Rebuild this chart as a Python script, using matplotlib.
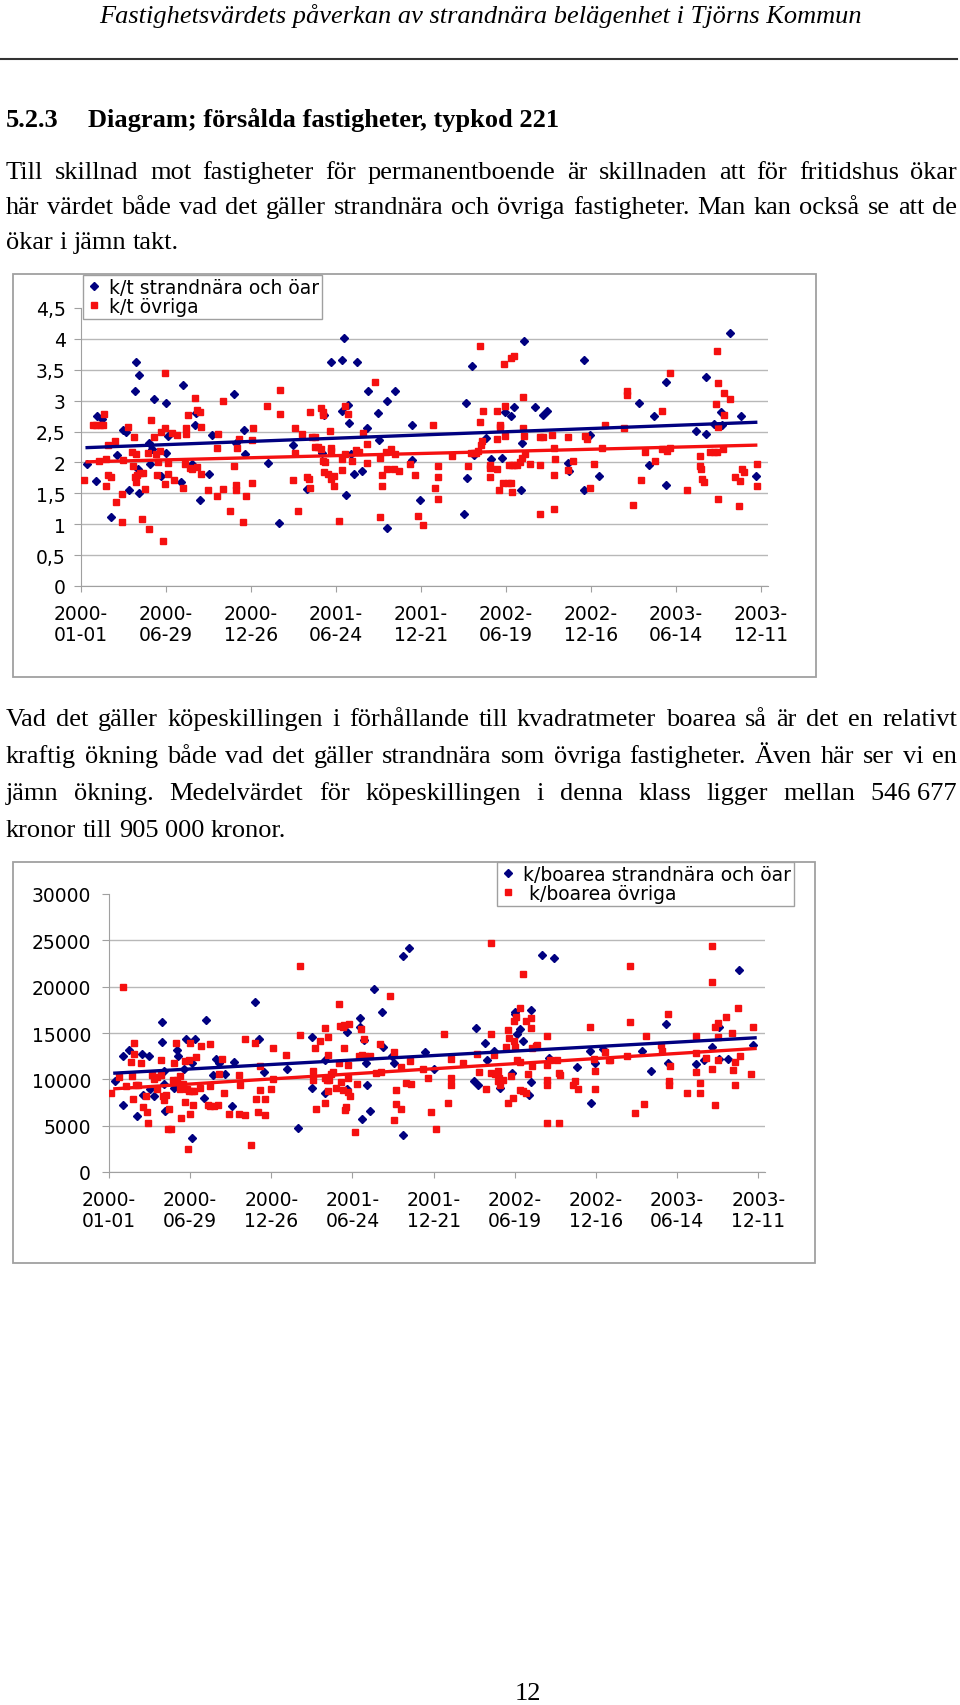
import numpy as np
import matplotlib.pyplot as plt
from matplotlib.patches import Rectangle

W, H = 960, 1706

# ---- chart 1: k/t (days since 2000-01-01) ----
kt_strand_days = [13, 31, 34, 44, 63, 76, 88, 95, 102, 116, 115, 123, 122, 120, 144, 147, 154, 150,
                  169, 179, 179, 185, 215, 212, 236, 242, 244, 253, 272, 277, 323, 329, 345, 347,
                  395, 420, 449, 479, 510, 515, 530, 553, 558, 552, 565, 567, 561, 571, 579, 585,
                  596, 605, 607, 628, 631, 649, 649, 664, 702, 702, 719, 811, 815, 818, 829, 832,
                  858, 868, 892, 899, 911, 918, 933, 939, 931, 961, 978, 988, 1032, 1034, 1066,
                  1066, 1079, 1098, 1182, 1203, 1213, 1239, 1239, 1302, 1323, 1323, 1341, 1356,
                  1358, 1374, 1398, 1429]
kt_strand_vals = [1.97, 1.70, 2.75, 2.71, 1.12, 2.12, 2.52, 2.50, 1.55, 3.63, 3.15, 3.41, 1.50, 1.90,
                  2.31, 1.98, 3.03, 2.21, 1.78, 2.97, 2.16, 2.42, 3.26, 1.69, 1.97, 2.61, 2.80, 1.40,
                  1.81, 2.44, 3.10, 2.32, 2.52, 2.14, 1.99, 1.02, 2.28, 1.57, 2.16, 2.77, 3.63, 3.66,
                  4.02, 2.84, 2.93, 2.64, 1.48, 2.14, 1.81, 3.62, 1.86, 2.55, 3.15, 2.80, 2.36, 3.00,
                  0.94, 3.15, 2.61, 2.04, 1.40, 1.17, 2.97, 1.75, 3.56, 2.12, 2.39, 2.05, 2.08, 2.82,
                  2.75, 2.90, 2.31, 3.97, 1.55, 2.90, 2.77, 2.84, 1.99, 1.86, 3.66, 1.55, 2.45, 1.78,
                  2.96, 1.96, 2.75, 3.30, 1.63, 2.51, 2.46, 3.39, 2.63, 2.81, 2.61, 4.10, 2.75, 1.78]

kt_ovr_days = [7, 25, 32, 40, 47, 49, 39, 53, 53, 58, 57, 64, 71, 75, 86, 86, 88, 100, 107, 110, 113,
               114, 116, 117, 118, 126, 132, 129, 136, 143, 141, 149, 155, 159, 161, 163, 170, 168,
               174, 177, 177, 178, 184, 185, 192, 198, 204, 216, 222, 222, 221, 226, 230, 236, 241,
               245, 245, 251, 255, 255, 270, 287, 288, 291, 300, 301, 316, 323, 329, 329, 331, 335,
               343, 350, 362, 363, 365, 393, 422, 422, 449, 453, 453, 460, 467, 478, 483, 485, 485,
               490, 495, 496, 503, 509, 512, 512, 508, 513, 515, 517, 524, 527, 530, 530, 530, 535,
               535, 546, 552, 552, 560, 560, 566, 573, 582, 589, 598, 605, 605, 623, 633, 633, 637,
               637, 646, 649, 656, 662, 666, 673, 697, 707, 714, 725, 746, 750, 756, 756, 757, 785,
               820, 846, 846, 851, 850, 847, 841, 837, 832, 826, 866, 866, 866, 880, 880, 881, 885,
               888, 888, 896, 898, 898, 894, 905, 911, 911, 916, 907, 913, 913, 918, 924, 930, 933,
               937, 937, 939, 940, 951, 972, 978, 972, 972, 997, 1002, 1004, 1002, 1002, 1032, 1032,
               1043, 1067, 1072, 1079, 1087, 1103, 1110, 1149, 1157, 1157, 1170, 1185, 1195, 1216,
               1230, 1230, 1242, 1248, 1248, 1283, 1312, 1311, 1313, 1316, 1319, 1333, 1340, 1346,
               1360, 1344, 1348, 1350, 1350, 1350, 1361, 1361, 1374, 1386, 1393, 1395, 1400, 1404,
               1431, 1431]
kt_ovr_vals = [1.72, 2.61, 2.61, 2.61, 2.61, 2.78, 2.03, 2.05, 1.62, 2.29, 1.79, 1.77, 2.34, 1.36,
               1.03, 1.49, 2.04, 2.58, 2.17, 1.95, 2.41, 1.76, 1.69, 2.14, 1.80, 1.83, 1.83, 1.09,
               1.57, 0.93, 2.16, 2.69, 2.41, 2.14, 1.80, 2.00, 2.49, 2.19, 0.73, 2.56, 3.44, 1.65,
               1.99, 1.82, 2.47, 1.72, 2.44, 1.59, 2.56, 2.46, 1.97, 2.77, 1.91, 1.90, 3.04, 2.85,
               1.92, 2.81, 2.58, 1.82, 1.55, 1.46, 2.23, 2.46, 1.57, 2.99, 1.21, 1.95, 1.55, 1.64,
               2.23, 2.38, 1.03, 1.46, 1.67, 2.36, 2.56, 2.91, 3.17, 2.78, 1.72, 2.56, 2.15, 1.21,
               2.46, 1.77, 1.74, 2.81, 1.59, 2.41, 2.41, 2.25, 2.25, 2.88, 2.81, 2.76, 2.22, 2.03,
               1.84, 2.00, 1.81, 2.51, 2.19, 2.24, 1.74, 1.78, 1.62, 1.05, 1.87, 2.05, 2.91, 2.14,
               2.79, 2.03, 2.20, 2.17, 2.47, 2.30, 1.99, 3.30, 2.07, 1.11, 1.79, 1.62, 2.17, 1.89,
               2.22, 1.89, 2.14, 1.86, 1.97, 1.79, 1.14, 0.98, 2.61, 1.59, 1.95, 1.77, 1.41, 2.10,
               1.95, 3.88, 2.66, 2.84, 2.34, 2.29, 2.19, 2.16, 2.16, 2.16, 1.96, 1.91, 1.77, 2.84,
               2.38, 1.89, 1.56, 2.61, 2.57, 3.60, 2.91, 2.43, 1.67, 1.67, 1.67, 3.69, 3.72, 1.96,
               1.96, 1.52, 1.96, 1.96, 2.00, 2.08, 3.06, 2.56, 2.43, 2.14, 1.97, 2.41, 2.41, 1.96,
               1.16, 2.45, 2.24, 2.05, 1.80, 1.24, 2.41, 1.87, 2.02, 2.43, 2.38, 1.59, 1.97, 2.23,
               2.61, 2.56, 3.15, 3.09, 1.31, 1.72, 2.17, 2.02, 2.84, 2.22, 2.18, 3.44, 2.24, 1.56,
               2.10, 1.95, 1.89, 1.74, 1.68, 2.17, 2.17, 2.17, 2.22, 2.94, 3.81, 3.29, 1.41, 2.58,
               3.12, 2.76, 3.02, 1.77, 1.29, 1.70, 1.89, 1.85, 1.97, 1.62]

kt_trend_days = [13, 1429]
kt_trend_strand = [2.24, 2.65]
kt_trend_ovr = [2.01, 2.28]

# ---- chart 2: k/boarea ----
kb_strand_days = [13, 31, 32, 44, 62, 74, 76, 88, 91, 100, 118, 118, 121, 125, 123, 144, 150, 154,
                  166, 171, 183, 183, 190, 211, 216, 230, 237, 244, 257, 273, 278, 324, 333, 344,
                  395, 420, 450, 450, 478, 480, 528, 528, 556, 557, 565, 569, 573, 562, 579, 587,
                  606, 608, 627, 632, 651, 665, 651, 700, 720, 814, 810, 819, 834, 838, 855, 868,
                  893, 900, 901, 904, 912, 919, 931, 937, 937, 960, 986, 977, 1037, 1066, 1068,
                  1077, 1095, 1183, 1202, 1236, 1239, 1302, 1319, 1338, 1354, 1353, 1372, 1397, 1429]
kb_strand_vals = [9773, 7258, 12468, 13187, 6072, 12683, 8264, 12468, 8982, 8156, 16240, 14013,
                  10923, 6575, 9521, 9054, 13187, 12504, 11066, 14372, 3701, 11785, 14372, 8012,
                  16384, 10420, 12145, 11785, 10600, 7078, 11821, 18396, 14372, 10779, 11138, 4743,
                  14552, 9054, 12109, 8515, 15091, 8982, 16635, 15701, 14193, 11785, 9414, 5749,
                  6575, 19761, 17246, 13474, 12468, 11785, 23282, 24145, 4024, 12935, 11138, 15522,
                  9845, 9342, 13937, 12091, 13032, 9050, 10679, 17304, 17086, 14842, 15457, 14118,
                  8326, 17521, 9665, 23458, 23096, 12308, 11367, 13104, 7457, 11729, 13322, 13104,
                  10860, 16000, 11765, 11693, 12055, 13466, 15638, 12236, 12236, 21756, 13756]

kb_ovr_days = [4, 22, 30, 38, 49, 50, 56, 53, 55, 59, 65, 70, 75, 83, 85, 86, 96, 100, 106, 106, 115,
               116, 120, 122, 127, 131, 138, 133, 142, 145, 148, 151, 157, 160, 157, 164, 169, 169,
               173, 175, 177, 179, 177, 180, 185, 186, 188, 194, 201, 205, 219, 225, 225, 223, 233,
               242, 245, 250, 256, 267, 288, 288, 290, 301, 301, 316, 323, 327, 330, 334, 335, 345,
               347, 360, 364, 364, 393, 423, 423, 452, 452, 457, 460, 467, 478, 485, 485, 478, 484,
               480, 485, 489, 493, 497, 504, 511, 513, 511, 515, 519, 519, 522, 521, 526, 524, 529,
               530, 532, 531, 534, 545, 551, 554, 559, 561, 565, 568, 579, 593, 600, 604, 624, 633,
               637, 636, 648, 648, 633, 659, 667, 670, 696, 707, 715, 726, 744, 752, 759, 759, 759,
               785, 816, 820, 836, 847, 847, 854, 856, 862, 863, 847, 866, 868, 873, 880, 884, 885,
               887, 891, 895, 898, 899, 900, 903, 906, 911, 911, 912, 919, 918, 924, 926, 930, 935,
               935, 939, 939, 946, 950, 972, 972, 972, 972, 972, 979, 994, 997, 997, 1001, 1030,
               1034, 1041, 1067, 1075, 1078, 1078, 1101, 1108, 1112, 1148, 1156, 1156, 1167, 1187,
               1192, 1225, 1227, 1240, 1241, 1241, 1244, 1281, 1303, 1302, 1303, 1310, 1310, 1325,
               1337, 1337, 1337, 1343, 1343, 1350, 1350, 1350, 1369, 1381, 1384, 1388, 1388, 1396,
               1400, 1428, 1425]
kb_ovr_vals = [8515, 10240, 20013, 9270, 11857, 10348, 13905, 7833, 12755, 9342, 9342, 11785, 7006,
               8192, 6467, 5282, 10420, 10060, 10240, 8982, 12037, 10420, 8192, 7725, 8336, 4599,
               4599, 6827, 9881, 11785, 13905, 9953, 10312, 5821, 8982, 9521, 7545, 12001, 8982,
               2443, 8695, 6288, 12037, 13941, 8731, 7258, 8731, 12396, 9054, 13546, 7186, 9234,
               7114, 13761, 7114, 7186, 10600, 12216, 8515, 6288, 6288, 10420, 9342, 14372, 6180,
               2946, 13905, 7833, 6467, 11426, 8803, 7833, 6108, 8982, 10060, 13402, 12576, 22205,
               14731, 10851, 9881, 13402, 6827, 14085, 15558, 12576, 14552, 10168, 9881, 7473, 8731,
               9953, 10600, 10779, 9054, 18144, 15809, 11713, 9701, 15630, 8803, 13366, 15917, 7006,
               6647, 8623, 11498, 15989, 10132, 8192, 4312, 9485, 12504, 15378, 12576, 14372, 12504,
               12504, 10671, 13761, 10779, 18971, 12935, 8875, 7294, 6827, 11318, 5641, 9593, 11929,
               9485, 11138, 10168, 6467, 4599, 14911, 7473, 12216, 10168, 9342, 11749, 12755, 10779,
               8978, 14842, 10679, 12670, 10570, 9846, 10860, 24725, 10136, 9412, 9955, 13466, 15276,
               7421, 14480, 10317, 8036, 16290, 14190, 13466, 16724, 12127, 17738, 11874, 8797,
               21358, 8688, 16290, 8579, 10570, 16579, 15566, 13394, 11475, 13575, 13756, 14661,
               11584, 9955, 9412, 5321, 12055, 12127, 5321, 10679, 10498, 9412, 9774, 8978, 15675,
               12200, 10860, 8941, 12923, 12091, 12127, 12489, 22191, 16218, 6335, 7349, 14661,
               13756, 13104, 17086, 9846, 9412, 11475, 8507, 14661, 12851, 10751, 8579, 9593, 12308,
               24435, 20489, 11149, 7240, 15675, 16037, 14552, 12127, 16760, 15023, 10968, 11837,
               9412, 17738, 12489, 15675, 10606]

kb_trend_days = [13, 1433]
kb_trend_strand = [10670, 14480]
kb_trend_ovr = [8982, 13322]

tick_days = [0, 180, 360, 540, 720, 900, 1080, 1260, 1440]
tick_labels = ["2000-\n01-01", "2000-\n06-29", "2000-\n12-26", "2001-\n06-24", "2001-\n12-21",
               "2002-\n06-19", "2002-\n12-16", "2003-\n06-14", "2003-\n12-11"]
kt_yticks = [0, 0.5, 1, 1.5, 2, 2.5, 3, 3.5, 4, 4.5]
kt_ylabels = ["0", "0,5", "1", "1,5", "2", "2,5", "3", "3,5", "4", "4,5"]
kb_yticks = [0, 5000, 10000, 15000, 20000, 25000, 30000]
kb_ylabels = ["0", "5000", "10000", "15000", "20000", "25000", "30000"]

BLUE = "#000080"
RED = "#f51010"
GRAY = "#a0a0a0"
GRID = "#b8b8b8"
SERIF = "Liberation Serif"

fig = plt.figure(figsize=(W / 100, H / 100), dpi=100)


def fy(py):
    return 1 - py / H


def make_chart(box, rect, xs1, ys1, xs2, ys2, tdays, t1, t2, ymax, yticks, ylabels,
               leg_xy, labels, ypad):
    # outer chart frame
    x0, y0, x1, y1 = box
    fig.add_artist(Rectangle((x0 / W, fy(y1)), (x1 - x0) / W, (y1 - y0) / H,
                             transform=fig.transFigure, fill=False, ec=GRAY, lw=1.3))
    l, t, r, b = rect
    ax = fig.add_axes([l / W, fy(b), (r - l) / W, (b - t) / H])
    h1, = ax.plot(xs1, ys1, ls="none", marker="D", ms=4.0, color=BLUE, zorder=3)
    h2, = ax.plot(xs2, ys2, ls="none", marker="s", ms=4.6, color=RED, zorder=4)
    ax.plot(tdays, t1, color=BLUE, lw=2.4, zorder=5)
    ax.plot(tdays, t2, color=RED, lw=2.4, zorder=5)
    ax.set_xlim(0, 1455)
    ax.set_ylim(0, ymax)
    ax.set_yticks(yticks)
    ax.set_yticklabels(ylabels)
    ax.set_xticks(tick_days)
    ax.set_xticklabels(tick_labels, linespacing=1.15)
    ax.yaxis.grid(True, color=GRID, lw=1)
    ax.get_ygridlines()[-1].set_visible(False)
    ax.set_axisbelow(True)
    for s in ["top", "right"]:
        ax.spines[s].set_visible(False)
    for s in ["left", "bottom"]:
        ax.spines[s].set_color(GRAY)
    ax.tick_params(axis="y", length=5, color=GRAY, pad=ypad, labelsize=13.5)
    ax.tick_params(axis="x", length=4, color=GRAY, pad=9, labelsize=13.5)
    ax.set_facecolor("none")
    leg = ax.legend([h1, h2], labels, loc="upper left", bbox_to_anchor=(leg_xy[0] / W, fy(leg_xy[1])),
                    bbox_transform=fig.transFigure, frameon=True, fancybox=False, framealpha=1,
                    edgecolor=GRAY, borderpad=0.15, labelspacing=0.0, handlelength=0.9,
                    handletextpad=0.35, borderaxespad=0, fontsize=13.5)
    leg.get_frame().set_linewidth(1)
    return ax


make_chart((13, 275, 816, 678), (81, 309, 768, 587),
           kt_strand_days, kt_strand_vals, kt_ovr_days, kt_ovr_vals,
           kt_trend_days, kt_trend_strand, kt_trend_ovr, 4.5, kt_yticks, kt_ylabels,
           (83, 276), ["k/t strandnära och öar", "k/t övriga"], 6)

make_chart((13, 863, 815, 1264), (109, 895, 765, 1173),
           kb_strand_days, kb_strand_vals, kb_ovr_days, kb_ovr_vals,
           kb_trend_days, kb_trend_strand, kb_trend_ovr, 30000, kb_yticks, kb_ylabels,
           (497, 863), ["k/boarea strandnära och öar", " k/boarea övriga"], 8)

# ---- page text ----
BODY = 19
LEFT, RIGHT = 6, 957
renderer = fig.canvas.get_renderer()


def put_line(text, ybase, justify):
    # place words one by one so justified lines reach the right margin
    words = [w.replace("~", " ") for w in text.split(" ")]
    items = [fig.text(0, fy(ybase), w, fontsize=BODY, family=SERIF, va="baseline") for w in words]
    widths = [it.get_window_extent(renderer).width for it in items]
    if justify and len(words) > 1:
        gap = (RIGHT - LEFT - sum(widths)) / (len(words) - 1)
    else:
        gap = 0.25 * BODY * 100 / 72
    x = LEFT
    for it, w in zip(items, widths):
        it.set_x(x / W)
        x += w + gap


fig.text(480 / W, fy(23), "Fastighetsvärdets påverkan av strandnära belägenhet i Tjörns Kommun",
         fontsize=BODY, family=SERIF, style="italic", ha="center", va="baseline")
fig.add_artist(plt.Line2D([0, 957 / W], [fy(60), fy(60)], transform=fig.transFigure,
                          color="#333333", lw=1.5))
fig.text(LEFT / W, fy(127), "5.2.3", fontsize=BODY, family=SERIF, weight="bold", va="baseline")
fig.text(88 / W, fy(127), "Diagram; försålda fastigheter, typkod 221", fontsize=BODY,
         family=SERIF, weight="bold", va="baseline")

put_line("Till skillnad mot fastigheter för permanentboende är skillnaden att för fritidshus ökar", 179, True)
put_line("här värdet både vad det gäller strandnära och övriga fastigheter. Man kan också se att de", 214, True)
put_line("ökar i jämn takt.", 249, False)

put_line("Vad det gäller köpeskillingen i förhållande till kvadratmeter boarea så är det en relativt", 726, True)
put_line("kraftig ökning både vad det gäller strandnära som övriga fastigheter. Även här ser vi en", 763, True)
put_line("jämn ökning. Medelvärdet för köpeskillingen i denna klass ligger mellan 546~677", 800, True)
put_line("kronor till 905 000 kronor.", 837, False)

fig.text(528 / W, fy(1700), "12", fontsize=BODY, family=SERIF, ha="center", va="baseline")

fig.savefig("out.png", dpi=100)
